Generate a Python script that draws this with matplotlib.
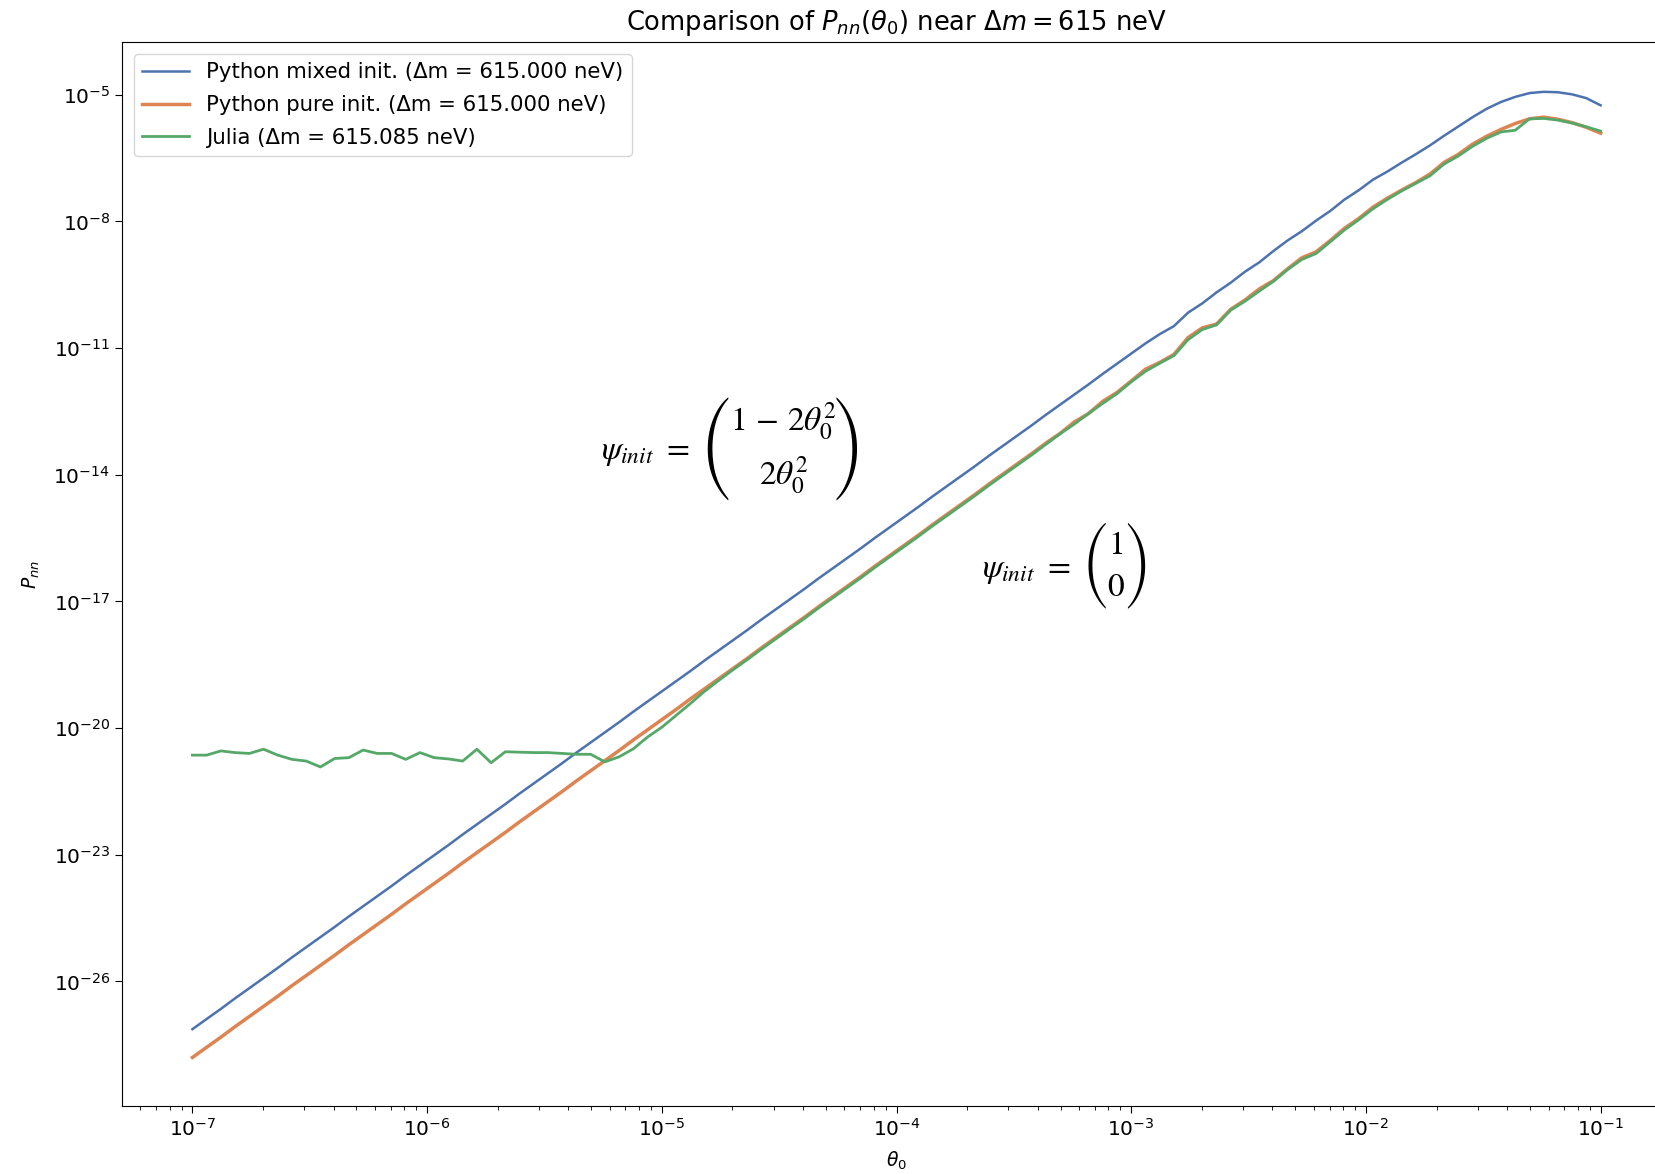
import os
import numpy as np
import matplotlib
matplotlib.use("Agg")
import matplotlib.pyplot as plt
from matplotlib.font_manager import FontProperties
from matplotlib.ticker import LogLocator, NullLocator, NullFormatter

# Mixing angle grid (100 log-spaced samples)
theta0 = np.logspace(-7, -1, 100)

# log10 of the oscillation probability P_nn for each run
log_p_mixed = [
    -27.13, -26.89, -26.65, -26.40, -26.16, -25.92, -25.68, -25.43, -25.19, -24.95,
    -24.71, -24.46, -24.22, -23.98, -23.74, -23.49, -23.25, -23.01, -22.77, -22.52,
    -22.28, -22.04, -21.80, -21.55, -21.31, -21.07, -20.83, -20.58, -20.34, -20.10,
    -19.86, -19.61, -19.37, -19.13, -18.89, -18.65, -18.40, -18.16, -17.92, -17.68,
    -17.43, -17.19, -16.95, -16.71, -16.46, -16.22, -15.98, -15.74, -15.49, -15.25,
    -15.01, -14.77, -14.52, -14.28, -14.04, -13.80, -13.55, -13.31, -13.07, -12.83,
    -12.58, -12.34, -12.10, -11.86, -11.61, -11.37, -11.13, -10.89, -10.67, -10.48,
    -10.16, -9.94, -9.68, -9.45, -9.19, -8.97, -8.70, -8.45, -8.23, -7.98,
    -7.75, -7.48, -7.26, -7.01, -6.82, -6.61, -6.41, -6.20, -5.97, -5.75,
    -5.53, -5.33, -5.17, -5.05, -4.96, -4.93, -4.94, -4.99, -5.08, -5.25,
]

log_p_pure = [
    -27.80, -27.56, -27.32, -27.07, -26.83, -26.59, -26.35, -26.10, -25.86, -25.62,
    -25.38, -25.13, -24.89, -24.65, -24.41, -24.16, -23.92, -23.68, -23.44, -23.19,
    -22.95, -22.71, -22.47, -22.22, -21.98, -21.74, -21.50, -21.25, -21.01, -20.77,
    -20.53, -20.28, -20.04, -19.80, -19.56, -19.31, -19.07, -18.83, -18.59, -18.35,
    -18.10, -17.86, -17.62, -17.38, -17.13, -16.89, -16.65, -16.41, -16.16, -15.92,
    -15.68, -15.44, -15.19, -14.95, -14.71, -14.47, -14.22, -13.98, -13.74, -13.50,
    -13.25, -13.02, -12.75, -12.55, -12.26, -12.05, -11.78, -11.50, -11.34, -11.15,
    -10.75, -10.52, -10.43, -10.08, -9.86, -9.60, -9.40, -9.12, -8.86, -8.72,
    -8.45, -8.16, -7.93, -7.66, -7.45, -7.26, -7.08, -6.88, -6.60, -6.41,
    -6.17, -5.98, -5.82, -5.68, -5.57, -5.53, -5.58, -5.66, -5.77, -5.91,
]

log_p_julia = [
    -20.64, -20.64, -20.54, -20.58, -20.60, -20.50, -20.64, -20.74, -20.78, -20.92,
    -20.72, -20.70, -20.52, -20.60, -20.60, -20.74, -20.58, -20.70, -20.73, -20.78,
    -20.50, -20.82, -20.56, -20.57, -20.58, -20.58, -20.60, -20.62, -20.62, -20.80,
    -20.68, -20.49, -20.21, -19.98, -19.70, -19.42, -19.13, -18.87, -18.62, -18.38,
    -18.13, -17.89, -17.65, -17.41, -17.16, -16.92, -16.68, -16.44, -16.19, -15.95,
    -15.71, -15.47, -15.22, -14.98, -14.74, -14.50, -14.25, -14.01, -13.77, -13.53,
    -13.28, -13.03, -12.80, -12.55, -12.31, -12.08, -11.80, -11.55, -11.36, -11.18,
    -10.80, -10.56, -10.45, -10.10, -9.89, -9.65, -9.42, -9.14, -8.90, -8.76,
    -8.48, -8.20, -7.96, -7.70, -7.48, -7.28, -7.10, -6.92, -6.64, -6.45,
    -6.22, -6.03, -5.88, -5.84, -5.57, -5.56, -5.60, -5.67, -5.76, -5.86,
]

# Axis tick exponents
x_tick_exponents = [-7, -6, -5, -4, -3, -2, -1]
y_tick_exponents = [-26, -23, -20, -17, -14, -11, -8, -5]

labels = [
    "Python mixed init. (\u0394m = 615.000 neV)",
    "Python pure init. (\u0394m = 615.000 neV)",
    "Julia (\u0394m = 615.085 neV)",
]
colors = ["#4c72b0", "#dd8452", "#55a868"]
widths = [1.8, 2.5, 2.0]

W, H = 1655, 1174
fig = plt.figure(figsize=(W / 100, H / 100), dpi=100)
ax = fig.add_axes([122 / W, (H - 1106) / H, 1549 / W, 1064 / H])

series = [log_p_mixed, log_p_pure, log_p_julia]
for vals, lab, col, lw in zip(series, labels, colors, widths):
    ax.plot(theta0, 10.0 ** np.asarray(vals), color=col, lw=lw, label=lab)

ax.set_xscale("log")
ax.set_yscale("log")
ax.set_xlim(10 ** -7.3, 10 ** -0.7)
ax.set_ylim(10 ** -28.95, 10 ** -3.75)

ax.set_xticks([10.0 ** e for e in x_tick_exponents])
ax.set_yticks([10.0 ** e for e in y_tick_exponents])
ax.yaxis.set_minor_locator(NullLocator())
ax.xaxis.set_minor_locator(LogLocator(base=10, subs=np.arange(2, 10), numticks=20))
ax.xaxis.set_minor_formatter(NullFormatter())
ax.tick_params(axis="both", which="major", labelsize=14.5, length=5)
ax.tick_params(axis="both", which="minor", length=3)

ax.set_xlabel(r"$\theta_0$", fontsize=13.5, labelpad=7)
ax.set_ylabel(r"$P_{nn}$", fontsize=13.5, labelpad=8)
ax.set_title(r"Comparison of $P_{nn}(\theta_0)$ near $\Delta m = 615$ neV",
             fontsize=18.5, pad=9)

ax.legend(loc="upper left", fontsize=15.3, handlelength=2.2, labelspacing=0.6,
          borderaxespad=0.55, framealpha=0.8)

# ---- state-vector annotations, assembled from pieces (pixel layout) ----
paren_font = os.path.join(matplotlib.get_data_path(), "fonts", "ttf",
                          "STIXSizThreeSymReg.ttf")
renderer = fig.canvas.get_renderer()


def px(x, y):
    """Figure pixel (from top-left) -> axes fraction."""
    return (x - 122) / 1549, (1106 - y) / 1064


def put_math(x, y, s, ha="center", size=24):
    fx, fy = px(x, y)
    return ax.text(fx, fy, s, transform=ax.transAxes, ha=ha, va="center",
                   fontsize=size, math_fontfamily="stix")


def put_paren(x, y, ch, height):
    fx, fy = px(x, y)
    base = 40.0
    t = ax.text(fx, fy, ch, transform=ax.transAxes, ha="center", va="center",
                fontproperties=FontProperties(fname=paren_font, size=base))
    h = t.get_window_extent(renderer).height
    t.set_fontproperties(FontProperties(fname=paren_font, size=base * height / h))
    return t


# mixed initial state
put_math(601, 452, r"$\psi_{init}\ =$", ha="left")
put_paren(715, 449, "(", 105)
put_math(783, 421, r"$1\,-\,2\theta_0^2$")
put_math(784, 475, r"$2\theta_0^2$")
put_paren(848, 449, ")", 105)

# pure initial state
put_math(982, 569, r"$\psi_{init}\ =$", ha="left")
put_paren(1095, 566, "(", 88)
put_math(1116, 545, r"$1$")
put_math(1116, 586, r"$0$")
put_paren(1137, 566, ")", 88)

fig.savefig("out.png", dpi=100)
